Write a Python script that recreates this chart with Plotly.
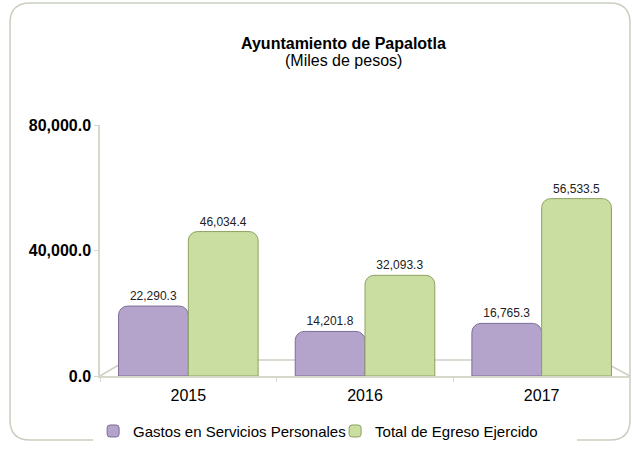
import plotly.graph_objects as go

years = ["2015", "2016", "2017"]
gastos = [22290.3, 14201.8, 16765.3]
total = [46034.4, 32093.3, 56533.5]
series_names = ["Gastos en Servicios Personales", "Total de Egreso Ejercido"]
tick_vals = [0, 40000, 80000]
tick_text = ["0.0", "40,000.0", "80,000.0"]

FONT = "Liberation Sans, Arial"

def fmt(v):
    return f"{v:,.1f}"

fig = go.Figure()
fig.add_trace(go.Bar(
    x=years, y=gastos, name=series_names[0],
    marker=dict(color="#b4a4cc", line=dict(color="#7d6d98", width=1), cornerradius=9),
    text=[fmt(v) for v in gastos], textposition="outside",
    textfont=dict(size=12, color="#222", family=FONT),
    cliponaxis=False,
))
fig.add_trace(go.Bar(
    x=years, y=total, name=series_names[1],
    marker=dict(color="#cadea2", line=dict(color="#8ca260", width=1), cornerradius=9),
    text=[fmt(v) for v in total], textposition="outside",
    textfont=dict(size=12, color="#222", family=FONT),
    cliponaxis=False,
))

border = ("M -70,373 L 510,373 Q 530,373 530,353 L 530,-44 Q 530,-64 510,-64 "
          "L -70,-64 Q -90,-64 -90,-44 L -90,353 Q -90,373 -70,373 Z")
floor = "M 0,0 L 27,16 L 500,16 L 530,0"

fig.update_layout(
    width=632, height=451,
    margin=dict(l=100, r=2, t=125, b=75),
    paper_bgcolor="white", plot_bgcolor="white",
    font=dict(family=FONT, color="#000"),
    barmode="group", bargap=0.21, bargroupgap=0.0,
    showlegend=True,
    legend=dict(orientation="h", x=-0.013, xanchor="left", y=-0.22, yanchor="middle",
                font=dict(size=15), entrywidth=197, entrywidthmode="pixels",
                traceorder="normal", itemclick=False),
    annotations=[
        dict(text="<b>Ayuntamiento de Papalotla</b>", x=0.46, y=1.0, xref="paper", yref="paper",
             yshift=92, showarrow=False, font=dict(size=16)),
        dict(text="(Miles de pesos)", x=0.46, y=1.0, xref="paper", yref="paper",
             yshift=75, showarrow=False, font=dict(size=16)),
    ],
    shapes=[
        dict(type="path", xref="paper", yref="paper", xsizemode="pixel", ysizemode="pixel",
             xanchor=0, yanchor=0, path=border, line=dict(color="#c8cfbf", width=1.5),
             layer="below"),
        dict(type="path", xref="paper", yref="paper", xsizemode="pixel", ysizemode="pixel",
             xanchor=0, yanchor=0, path=floor, line=dict(color="#cdd1c3", width=1.5),
             layer="below"),
    ],
)
fig.update_yaxes(range=[0, 80000], tickvals=tick_vals, ticktext=tick_text,
                 tickfont=dict(size=16, family=FONT, weight="bold"),
                 showgrid=False, showline=True, linecolor="#d5d9cc", linewidth=1.5,
                 ticks="outside", ticklen=4, tickcolor="#d5d9cc", zeroline=False)
fig.update_xaxes(showgrid=False, showline=True, linecolor="#d5d9cc", linewidth=1.5,
                 tickfont=dict(size=16), ticks="outside", tickson="boundaries",
                 ticklen=4, tickcolor="#d5d9cc", ticklabelstandoff=4)

fig.write_html("out.html", post_script="document.body.style.margin='0';",
               config={"displayModeBar": False})
